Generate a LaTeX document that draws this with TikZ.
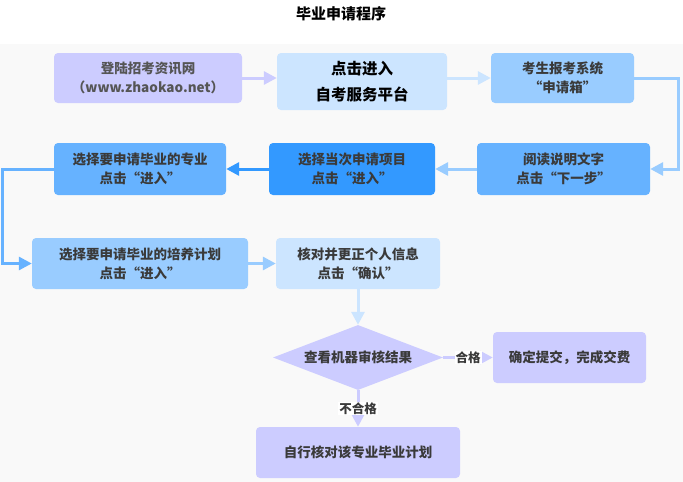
\documentclass[tikz,border=0pt]{standalone}
\usepackage{fontspec}
\newfontfamily\cjk{Noto Sans CJK SC}
\usetikzlibrary{positioning,arrows.meta,calc,shapes.geometric}
\definecolor{ink}{HTML}{3A3A3A}
\definecolor{gray}{HTML}{555555}
\definecolor{panel}{HTML}{F9F9F9}
\definecolor{lav}{HTML}{CCCCFF}
\definecolor{pale}{HTML}{CCE5FF}
\definecolor{lblue}{HTML}{99CCFF}
\definecolor{mblue}{HTML}{66B2FF}
\definecolor{dblue}{HTML}{3399FF}
\tikzset{
  flow/.style={-{Triangle[length=13pt,width=13pt]}, line width=3pt, color=#1},
  flow/.default=lblue,
  stepbox/.style={rounded corners=4pt, fill=#1, text=ink, align=center, inner sep=0pt,
    font=\cjk\bfseries\fontsize{13.5}{19}\selectfont},
  stepbox/.default=lblue,
  dec/.style={diamond, aspect=2.6, fill=#1, text=ink, inner sep=0pt, minimum width=170pt,
    minimum height=65pt, font=\cjk\bfseries\fontsize{13.5}{19}\selectfont},
  lab/.style={fill=white, text=ink, inner sep=1pt, font=\cjk\bfseries\fontsize{12.5}{15}\selectfont},
}

\begin{document}
\begin{tikzpicture}[x=1pt, y=-1pt]
  \fill[white] (0,0) rectangle (683,482);
  \fill[panel] (0,44) rectangle (683,482);
  \useasboundingbox (0,0) rectangle (683,482);
  \node[font=\cjk\bfseries\fontsize{15}{18}\selectfont] (title) at (341,14) {毕业申请程序};

  \node[stepbox=lav, text=gray, minimum width=188pt, minimum height=50pt] (site) at (148,78)
    {登陆招考资讯网\\（www.zhaokao.net）};
  \node[stepbox=pale, text=black, minimum width=170pt, minimum height=57pt,
    font=\cjk\bfseries\fontsize{15.5}{26}\selectfont] (portal) at (362,81.5) {点击进入\\自考服务平台};
  \node[stepbox=lblue, minimum width=143pt, minimum height=50pt] (inbox) at (562.5,78)
    {考生报考系统\\“申请箱”};
  \node[stepbox=mblue, minimum width=173pt, minimum height=52pt] (read) at (563.5,169)
    {阅读说明文字\\点击“下一步”};
  \node[stepbox=dblue, minimum width=166pt, minimum height=52pt] (item) at (352,169)
    {选择当次申请项目\\点击“进入”};
  \node[stepbox=mblue, minimum width=172pt, minimum height=52pt] (major) at (140,169)
    {选择要申请毕业的专业\\点击“进入”};
  \node[stepbox=lblue, minimum width=216pt, minimum height=51pt] (plan) at (140,263.5)
    {选择要申请毕业的培养计划\\点击“进入”};
  \node[stepbox=pale, minimum width=164pt, minimum height=51pt] (check) at (358,263.5)
    {核对并更正个人信息\\点击“确认”};
  \node[dec=lav] (audit) at (358,357.5) {查看机器审核结果};
  \node[stepbox=lav, minimum width=153pt, minimum height=51pt] (pay) at (569.5,357.5)
    {确定提交，完成交费};
  \node[stepbox=lav, minimum width=204pt, minimum height=51pt] (self) at (358,452.5)
    {自行核对该专业毕业计划};

  \draw[flow=lav] (site.east) -- (site.east -| portal.west);
  \draw[flow=pale] (inbox.west -| portal.east) -- (inbox.west);
  \draw[flow] (inbox.east) -- ++(44,0) |- (read.east);
  \draw[flow] (read.west) -- (item.east);
  \draw[flow=dblue] (item.west) -- (major.east);
  \draw[flow=mblue] (major.west) -- ++(-51,0) |- (plan.west);
  \draw[flow] (plan.east) -- (check.west);
  \draw[flow=pale] (check.south) -- (audit.north);
  \draw[flow=lav] (audit.east) -- node[lab] {合格} (pay.west);
  \draw[flow=lav] (audit.south) -- node[lab] {不合格} (self.north);
\end{tikzpicture}
\end{document}
